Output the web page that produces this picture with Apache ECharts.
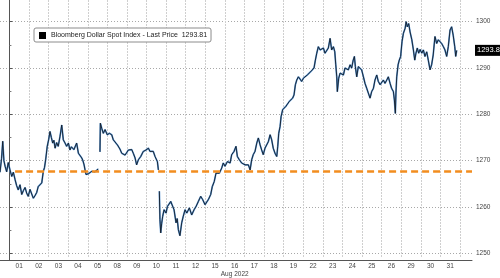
<!DOCTYPE html>
<html><head><meta charset="utf-8">
<script src="https://cdn.jsdelivr.net/npm/echarts@6/dist/echarts.min.js"></script>
<style>html,body{margin:0;padding:0;background:#fff}#c{width:500px;height:278px}</style>
</head><body><div id="c"></div>
<script>
const days = ['01','02','03','04','05','08','09','10','11','12','15','16','17','18','19','22','23','24','25','26','29','30','31'];
const monthLabel = 'Aug 2022';
const yTicks = [1250, 1260, 1270, 1280, 1290, 1300];
const seriesName = 'Bloomberg Dollar Spot Index - Last Price';
const lastPrice = 1293.81;
const refLevel = 1267.7;
const refStart = 0.29;
// time in trading-day units (0 = start of Aug 01), null price = data gap
const dayT = [-0.48,-0.40,-0.34,-0.28,-0.22,-0.14,-0.06,0.03,0.12,0.20,0.29,0.37,0.45,0.54,0.63,0.72,0.80,0.88,0.96,1.05,1.14,1.22,1.30,1.39,1.47,1.56,1.65,1.73,1.79,1.85,1.93,2.00,2.07,2.14,2.21,2.27,2.33,2.41,2.49,2.58,2.67,2.75,2.84,2.92,3.01,3.09,3.16,3.23,3.29,3.35,3.43,3.52,3.60,3.69,3.75,3.81,3.86,3.91,3.97,4.04,4.11,4.20,4.28,4.36,4.45,4.53,
4.58,
4.62,4.64,4.71,4.79,4.88,4.99,5.10,5.22,5.30,5.39,5.51,5.64,5.73,5.81,5.90,5.98,6.07,6.15,6.24,6.32,6.41,6.49,6.58,6.70,6.83,6.97,7.09,7.17,7.26,7.34,7.43,7.55,7.60,
7.62,
7.65,7.68,7.72,7.77,7.82,7.89,7.99,8.06,8.16,8.23,8.33,8.40,8.50,8.56,8.62,8.70,8.79,8.87,8.96,9.05,9.18,9.30,9.42,9.52,9.64,9.76,9.86,9.98,10.07,10.15,10.27,10.35,10.45,10.54,10.61,10.71,10.83,10.91,11.00,11.12,11.26,11.34,11.46,11.56,11.63,11.73,11.85,11.93,12.02,12.11,12.19,12.28,12.36,12.44,12.53,12.62,12.70,12.79,12.87,12.95,13.04,13.13,13.21,13.30,13.38,13.46,13.55,13.64,13.69,13.74,13.81,13.86,13.94,14.01,14.10,14.18,14.28,14.35,14.45,14.52,14.59,14.66,14.74,14.83,14.91,15.00,15.08,15.20,15.30,15.37,15.47,15.54,15.61,15.68,15.76,15.85,15.93,16.02,16.10,16.19,16.27,16.36,16.44,16.53,16.60,16.65,16.70,16.73,16.80,16.87,16.95,17.04,17.12,17.21,17.29,17.38,17.46,17.54,17.60,17.65,17.72,17.80,17.89,17.97,18.06,18.14,18.23,18.31,18.40,18.48,18.57,18.65,18.74,18.82,18.91,18.99,19.08,19.16,19.25,19.33,19.42,19.50,19.59,19.64,19.69,19.72,19.76,19.83,19.89,19.96,20.03,20.10,20.19,20.24,20.30,20.37,20.44,20.53,20.61,20.68,20.74,20.81,20.88,20.95,21.04,21.12,21.20,21.29,21.37,21.46,21.54,21.62,21.71,21.80,21.88,21.97,22.05,22.14,22.22,22.31,22.39,22.48,22.56,22.64,22.72,22.77,22.82];
const price = [1267.5,1270.5,1274.2,1270.0,1268.8,1267.6,1269.6,1268.0,1266.6,1267.5,1265.9,1264.6,1263.7,1264.8,1262.7,1263.6,1264.2,1263.0,1262.3,1263.8,1263.4,1261.9,1262.4,1263.1,1264.4,1264.0,1265.2,1267.7,1268.5,1270.2,1273.1,1274.5,1276.3,1275.0,1273.8,1274.4,1272.7,1273.9,1273.1,1275.2,1277.7,1274.5,1273.8,1273.1,1273.8,1272.3,1273.0,1273.4,1272.4,1272.7,1273.8,1271.6,1271.6,1270.6,1270.0,1269.1,1268.0,1267.0,1266.6,1267.2,1267.0,1267.7,1268.0,1267.6,1267.9,1268.2,
null,
1271.9,1278.1,1277.0,1275.9,1276.7,1275.6,1275.9,1275.6,1274.5,1274.9,1273.4,1272.5,1271.6,1272.0,1271.2,1271.6,1272.3,1272.0,1272.4,1271.6,1270.6,1269.1,1270.2,1270.9,1272.0,1272.3,1272.7,1272.0,1272.3,1272.0,1270.9,1269.8,1268.0,
null,
1263.4,1257.3,1254.4,1256.5,1258.0,1259.4,1258.7,1260.1,1260.5,1261.2,1260.9,1259.4,1256.6,1257.5,1255.1,1253.8,1256.6,1258.0,1259.4,1258.7,1259.8,1258.3,1259.4,1260.1,1261.2,1262.3,1261.6,1260.5,1260.1,1261.6,1262.7,1264.4,1265.5,1267.3,1267.0,1267.3,1268.4,1269.5,1268.8,1269.8,1269.5,1271.3,1272.0,1273.1,1270.9,1270.2,1269.5,1269.8,1269.1,1269.5,1269.1,1268.0,1270.2,1271.3,1272.0,1273.8,1274.9,1273.4,1272.3,1271.3,1272.7,1273.1,1274.1,1275.6,1274.5,1272.7,1271.6,1270.9,1273.1,1275.9,1277.4,1279.5,1281.0,1280.6,1281.7,1281.3,1282.8,1282.4,1283.5,1284.2,1286.4,1287.4,1288.1,1287.6,1287.1,1287.8,1287.4,1288.5,1288.1,1289.2,1289.6,1290.0,1291.7,1293.2,1294.6,1293.9,1293.5,1294.3,1293.2,1293.2,1294.3,1296.4,1293.9,1294.6,1293.5,1290.7,1288.1,1284.9,1287.8,1288.9,1289.2,1288.5,1290.0,1290.3,1289.6,1290.7,1290.0,1291.7,1292.5,1290.3,1288.1,1290.3,1290.0,1289.6,1288.1,1286.7,1285.6,1284.6,1283.5,1284.9,1285.6,1287.4,1288.5,1287.1,1286.4,1286.7,1287.4,1286.7,1287.4,1288.1,1286.7,1285.6,1284.9,1283.1,1280.2,1284.6,1288.1,1290.7,1291.7,1292.5,1295.7,1297.5,1298.6,1300.0,1298.9,1299.6,1297.8,1296.1,1293.9,1291.7,1293.2,1294.3,1293.2,1294.0,1293.2,1293.9,1292.5,1293.5,1291.7,1289.6,1290.7,1292.8,1296.8,1295.3,1296.1,1295.7,1295.3,1294.6,1293.9,1292.5,1294.6,1298.2,1298.9,1297.1,1294.6,1292.5,1293.81];

const xMin = -0.48, xMax = 23.6;
const yMinFull = 1248.56, yMaxFull = 1304.68;
const FONT = 'Liberation Sans, Arial, sans-serif';
const data = dayT.map((t, i) => [t, price[i] == null ? '-' : price[i]]);

const chart = echarts.init(document.getElementById('c'), null, {renderer: 'canvas'});
chart.setOption({
  animation: false,
  backgroundColor: '#fff',
  legend: {
    left: 34, top: 28,
    data: [{name: seriesName, icon: 'rect', itemStyle: {color: '#000'}}],
    itemWidth: 7, itemHeight: 7, itemGap: 4,
    padding: [4, 4, 3, 5],
    backgroundColor: '#fff', borderColor: '#8c8c8c', borderWidth: 1, borderRadius: 2,
    textStyle: {fontSize: 7, color: '#222', fontFamily: FONT},
    formatter: n => n + '  ' + lastPrice.toFixed(2)
  },
  grid: [
    {left: 0, right: 28, top: 0, bottom: 18},
    {left: 0, right: 28, top: 21.7, bottom: 24.7},
    {left: 9.4, right: 40, top: 0, bottom: 18}
  ],
  xAxis: [
    {type: 'value', gridIndex: 0, min: xMin, max: xMax,
     axisLine: {show: true, lineStyle: {color: '#555', width: 1}},
     axisTick: {show: false}, axisLabel: {show: false}, splitLine: {show: false}},
    {type: 'value', gridIndex: 1, min: xMin, max: xMax, show: false},
    {type: 'category', gridIndex: 2, data: days, boundaryGap: true,
     axisLine: {show: false}, axisTick: {show: false},
     axisLabel: {interval: 0, fontSize: 6.5, color: '#444', fontFamily: FONT, margin: 4, lineHeight: 8,
       formatter: v => v === '16' ? v + '\n' + monthLabel : v},
     splitLine: {show: true, interval: 0, lineStyle: {color: '#cfcfcf', width: 1, type: [2, 1]}}}
  ],
  yAxis: [
    {type: 'value', gridIndex: 0, position: 'right', min: yMinFull, max: yMaxFull,
     axisLine: {show: true, lineStyle: {color: '#555', width: 1}},
     axisTick: {show: false}, axisLabel: {show: false}, splitLine: {show: false}},
    {type: 'value', gridIndex: 1, position: 'right', min: yTicks[0], max: yTicks[yTicks.length - 1], interval: 10,
     axisLine: {show: false},
     axisTick: {show: true, length: 3, lineStyle: {color: '#555'}},
     minorTick: {show: true, splitNumber: 2, length: 2, lineStyle: {color: '#777'}},
     axisLabel: {fontSize: 6.5, color: '#444', fontFamily: FONT, margin: 4, formatter: v => String(v)},
     splitLine: {show: true, lineStyle: {color: '#a8a8a8', width: 1, type: [1, 2]}}},
    {type: 'value', gridIndex: 2, show: false}
  ],
  series: [
    {name: seriesName, type: 'line', xAxisIndex: 0, yAxisIndex: 0, data: data,
     showSymbol: false, connectNulls: false,
     lineStyle: {color: '#5a97d6', width: 1.7}, itemStyle: {color: '#5a97d6'},
     markLine: {silent: true, symbol: 'none', label: {show: false},
       lineStyle: {color: '#f28d1f', width: 2.6, type: [7, 4]},
       data: [[{coord: [refStart, refLevel]}, {coord: [xMax, refLevel]}]]},
     markPoint: {symbolSize: 0, silent: true,
       label: {show: true, position: 'right', distance: 3, formatter: lastPrice.toFixed(2),
         color: '#fff', backgroundColor: '#000', fontSize: 7.5, fontFamily: FONT,
         padding: [2, 2, 1, 2]},
       data: [{coord: [xMax, lastPrice]}]}},
    {name: 'overlay', type: 'line', xAxisIndex: 0, yAxisIndex: 0, data: data,
     showSymbol: false, connectNulls: false,
     lineStyle: {color: '#141c26', width: 0.9}, itemStyle: {color: '#141c26'}}
  ]
});
</script></body></html>
